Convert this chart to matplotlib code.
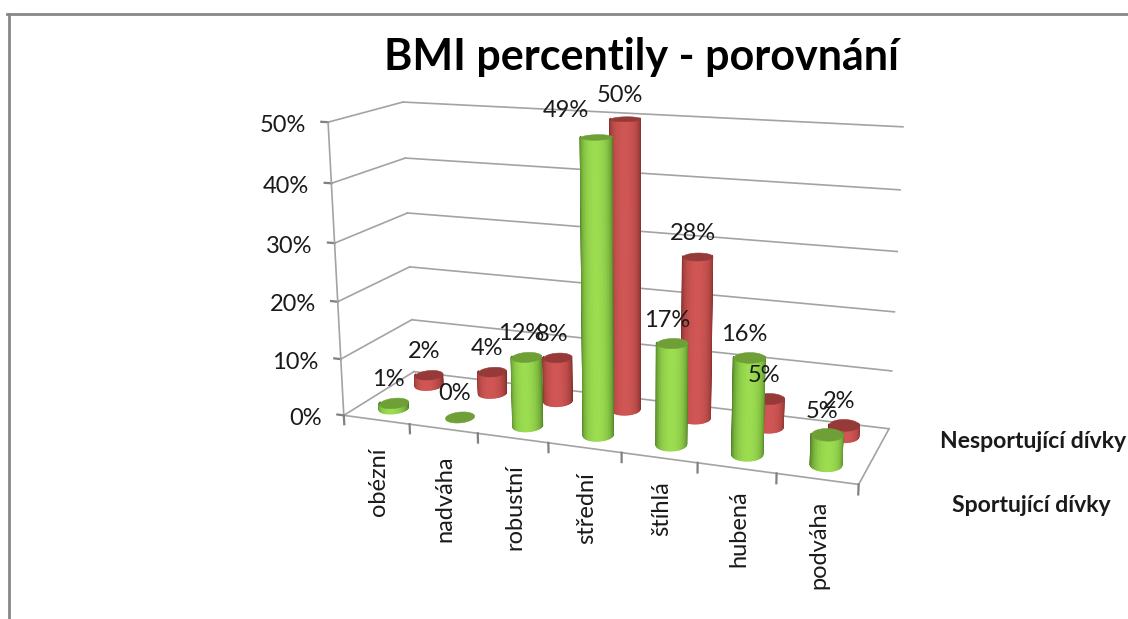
import numpy as np
import matplotlib
matplotlib.use("Agg")
import matplotlib.pyplot as plt
from matplotlib.colors import to_rgb
from matplotlib.lines import Line2D
from mpl_toolkits.mplot3d import proj3d
from mpl_toolkits.mplot3d.art3d import Poly3DCollection

categories = ["obézní", "nadváha", "robustní", "střední", "štíhlá", "hubená", "podváha"]
sportujici = [1, 0, 12, 49, 17, 16, 5]
nesportujici = [2, 4, 8, 50, 28, 5, 2]
value_ticks = [0, 10, 20, 30, 40, 50]

W, H = 1128, 619
ELEV, AZIM, ROLL = 14.613, -69.299, 0.264
RX, RY = 0.19, 0.11
Y_GREEN, Y_RED = 0.24, 0.76
GRID = "#a3a3a3"
TICK = "#808080"
TEXT = "#1a1a1a"

plt.rcParams["font.family"] = ["Lato", "DejaVu Sans"]

fig = plt.figure(figsize=(W / 100, H / 100), dpi=100)
ax = fig.add_axes([292.6 / W, 22.8 / H, 621.3 / W, 621.3 / H], projection="3d", computed_zorder=False)
ax.set_xlim(0, 7)
ax.set_ylim(0, 1)
ax.set_zlim(0, 50)
ax.set_axis_off()
ax.view_init(ELEV, AZIM, ROLL)
ax.set_proj_type("persp", focal_length=0.436)
ax.set_box_aspect((1, 0.285, 0.569))
M = ax.get_proj()


def project(x, y, z):
    u, v, _ = proj3d.proj_transform(x, y, z, M)
    return u, v


def mix(c0, c1, t):
    return tuple(np.array(to_rgb(c0)) * (1 - t) + np.array(to_rgb(c1)) * t)


def cylinder(x0, y0, h, dark, bright, top, zo):
    th = np.linspace(0, 2 * np.pi, 37)
    xs = x0 + RX * np.cos(th)
    ys = y0 + RY * np.sin(th)
    if h > 0:
        quads = []
        cols = []
        for j in range(36):
            # only the side turned towards the viewer gets drawn
            t = np.cos((th[j] + th[j + 1]) / 2 - np.radians(AZIM))
            if t < -0.2:
                continue
            quads.append([(xs[j], ys[j], 0), (xs[j + 1], ys[j + 1], 0),
                          (xs[j + 1], ys[j + 1], h), (xs[j], ys[j], h)])
            cols.append(mix(dark, bright, max(t, 0)))
        ax.add_collection3d(Poly3DCollection(quads, facecolors=cols, edgecolors=cols, linewidths=1.0, zorder=zo))
    lid = list(zip(xs, ys, np.full_like(xs, h)))
    ax.add_collection3d(Poly3DCollection([lid], facecolors=top, edgecolors=top, linewidths=0.4, zorder=zo + 0.1))


# walls and floor
for v in value_ticks:
    ax.plot([0, 0], [0, 1], [v, v], color=GRID, lw=1.2, zorder=1)
    ax.plot([0, 7], [1, 1], [v, v], color=GRID, lw=1.2, zorder=1)
    ax.plot([-0.1, 0], [0, 0], [v, v], color=TICK, lw=1.6, zorder=1)
    u, w = project(0, 0, v)
    ax.annotate("%d%%" % v, (u, w), xytext=(-22, -3), textcoords="offset pixels",
                ha="right", va="center", fontsize=17, color=TEXT, zorder=9)
ax.plot([0, 0], [0, 0], [0, 50], color=GRID, lw=1.2, zorder=1)
ax.plot([0, 7], [0, 0], [0, 0], color=GRID, lw=1.2, zorder=1)
ax.plot([7, 7], [0, 1], [0, 0], color=GRID, lw=1.2, zorder=1)
for i in range(8):
    ax.plot([i, i], [0, 0], [0, -1.6], color=TICK, lw=1.6, zorder=1)

for i, v in enumerate(nesportujici):
    cylinder(i + 0.5, Y_RED, v, "#7f2c2a", "#cf5654", "#953a38", 3 + i * 0.2)
for i, v in enumerate(sportujici):
    cylinder(i + 0.5, Y_GREEN, v, "#4a7a22", "#9bdc50", "#6fa037", 5 + i * 0.2)

for i, c in enumerate(categories):
    u, w = project(i + 0.5, 0, 0)
    ax.annotate(c, (u, w), xytext=(2, -28 + i * 1.1), textcoords="offset pixels", rotation=90,
                ha="center", va="top", fontsize=17, color=TEXT, zorder=9)

for y0, vals in ((Y_RED, nesportujici), (Y_GREEN, sportujici)):
    for i, v in enumerate(vals):
        u, w = project(i + 0.5, y0, v)
        # the 49% label sits further left, clear of the tall red column
        off = (-30, 26) if v == 49 else (-5, 23)
        ax.annotate("%d%%" % v, (u, w), xytext=off, textcoords="offset pixels",
                    ha="center", va="center", fontsize=17, color=TEXT, zorder=9)

fig.text(641 / W, 1 - 57 / H, "BMI percentily - porovnání", fontsize=31, fontweight="bold",
         ha="center", va="center", color="black")
fig.text(940 / W, 1 - 442 / H, "Nesportující dívky", fontsize=16.6, fontweight="bold",
         ha="left", va="center", color=TEXT)
fig.text(952 / W, 1 - 506 / H, "Sportující dívky", fontsize=16.6, fontweight="bold",
         ha="left", va="center", color=TEXT)

# frame, cut off on the right and at the bottom
fig.add_artist(Line2D([8.5 / W, 8.5 / W], [0, 1 - 14 / H], color="#888888", lw=2))
fig.add_artist(Line2D([7 / W, 1], [1 - 14 / H, 1 - 14 / H], color="#888888", lw=2))

fig.savefig("out.png", dpi=100)
